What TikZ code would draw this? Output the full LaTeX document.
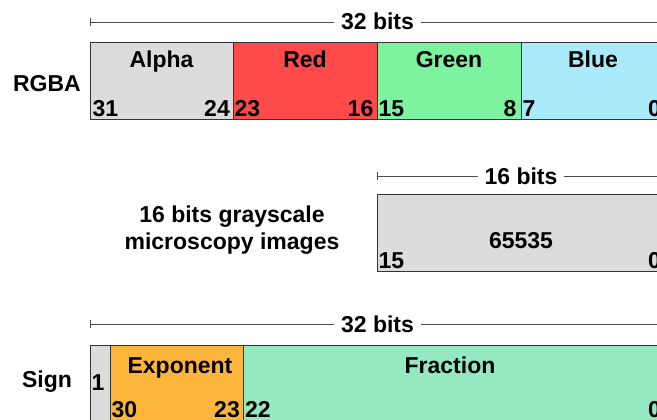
\documentclass[tikz,border=0pt]{standalone}
\usepackage{fontspec}
\setmainfont{Liberation Sans}
\definecolor{cgray}{HTML}{DCDCDC}
\definecolor{cred}{HTML}{FF4A4A}
\definecolor{cgreen}{HTML}{7DF29F}
\definecolor{cblue}{HTML}{A8E9FA}
\definecolor{corange}{HTML}{FDB53C}
\definecolor{cfrac}{HTML}{94E9C1}
\definecolor{cline}{HTML}{333333}
\begin{document}
\begin{tikzpicture}[x=1pt,y=-1pt,
  cell/.style={draw=cline, line width=1pt, anchor=north west, minimum height=77pt, inner sep=0pt, outer sep=0pt},
  txt/.style={font=\bfseries\fontsize{23}{27}\selectfont, inner sep=0pt, text=black},
  bl/.style={txt, anchor=base west},
  br/.style={txt, anchor=base east},
  bc/.style={txt, anchor=base},
  ruler/.style={draw=black!70, line width=0.9pt},
  rlabel/.style={txt, anchor=base, fill=white, inner xsep=7pt, inner ysep=1pt}]
\useasboundingbox (0,0) rectangle (657,420);
\clip (0,0) rectangle (657,420);

% ---------- RGBA ----------
\coordinate (r1l) at (90,22);
\coordinate (r1r) at (700,22);
\draw[ruler] (r1l) -- (r1r);
\draw[ruler] ([yshift=4pt]r1l) -- ([yshift=-4pt]r1l);
\node[rlabel] (r1t) at (377.5,30) {32 bits};

\node[cell, fill=cgray, minimum width=143pt] (alpha) at (90,43) {};
\node[cell, fill=cred, minimum width=144pt] (red) at (233,43) {};
\node[cell, fill=cgreen, minimum width=144pt] (green) at (377,43) {};
\node[cell, fill=cblue, minimum width=144pt] (blue) at (521,43) {};

\node[bc] (la) at (161.5,68) {Alpha};
\node[bc] (lr) at (305,68) {Red};
\node[bc] (lg) at (449,68) {Green};
\node[bc] (lb) at (593,68) {Blue};

\node[bl] at (92.5,117) {31};
\node[br] at (230,117) {24};
\node[bl] at (234.5,117) {23};
\node[br] at (373.5,117) {16};
\node[bl] at (378.5,117) {15};
\node[br] at (516.5,117) {8};
\node[bl] at (522.5,117) {7};
\node[br] at (661,117) {0};

\node[bc] (rgba) at (47,92) {RGBA};

% ---------- 16 bits ----------
\coordinate (r2l) at (377,176);
\coordinate (r2r) at (700,176);
\draw[ruler] (r2l) -- (r2r);
\draw[ruler] ([yshift=4pt]r2l) -- ([yshift=-4pt]r2l);
\node[rlabel] (r2t) at (521,184) {16 bits};

\node[cell, fill=cgray, minimum width=288pt] (gray) at (377,194) {};
\node[bc] (v) at (521,248) {65535};
\node[bl] at (378.5,268) {15};
\node[br] at (661,268) {0};

\node[txt, align=center] (glabel) at (232,230) {16 bits grayscale\\microscopy images};

% ---------- Float ----------
\coordinate (r3l) at (90,324);
\coordinate (r3r) at (700,324);
\draw[ruler] (r3l) -- (r3r);
\draw[ruler] ([yshift=4pt]r3l) -- ([yshift=-4pt]r3l);
\node[rlabel] (r3t) at (377.5,332) {32 bits};

\node[cell, fill=cgray, minimum width=20pt] (sign) at (90,345) {};
\node[cell, fill=corange, minimum width=133pt] (exp) at (110,345) {};
\node[cell, fill=cfrac, minimum width=422pt] (frac) at (243,345) {};

\node[bl] at (91.5,390) {1};
\node[bc] (le) at (180,373) {Exponent};
\node[bc] (lf) at (450,373) {Fraction};
\node[bl] at (111.5,417) {30};
\node[br] at (240,417) {23};
\node[bl] at (245,417) {22};
\node[br] at (661,417) {0};

\node[bc] (signl) at (47,387) {Sign};
\end{tikzpicture}
\end{document}
